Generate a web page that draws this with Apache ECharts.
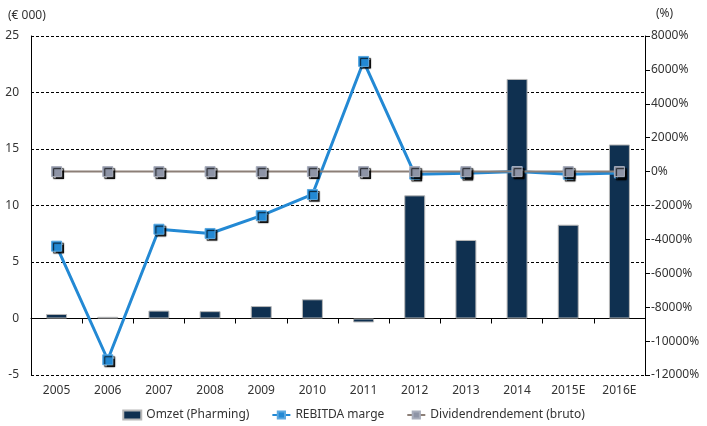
<html lang="nl">
<head>
    <meta charset="UTF-8">
    <title>Omzet en REBITDA marge</title>
    <script src="https://cdn.jsdelivr.net/npm/echarts@6/dist/echarts.min.js"></script>
</head>
<style>
    html, body { margin: 0; padding: 0; background: #fff; }
    #container { width: 707px; height: 426px; }
</style>
<body>
<div id="container"></div>
<script>
    var years = ['2005', '2006', '2007', '2008', '2009', '2010', '2011', '2012', '2013', '2014', '2015E', '2016E'];
    // omzet in € 000
    var omzet = [0.4, 0.15, 0.7, 0.65, 1.1, 1.7, -0.35, 10.9, 6.95, 21.2, 8.3, 15.4];
    // marges in %
    var rebitda = [-4400, -11100, -3400, -3650, -2600, -1350, 6500, -150, -100, 0, -150, -80];
    var dividend = [0, 0, 0, 0, 0, 0, 0, 0, 0, 0, 0, 0];

    var chart = echarts.init(document.getElementById('container'));
    var font = 'Noto Sans';
    var markerShadow = {
        shadowColor: 'rgba(0,0,0,0.85)',
        shadowBlur: 1,
        shadowOffsetX: 2,
        shadowOffsetY: 2
    };

    var option = {
        animation: false,
        textStyle: { fontFamily: font },
        grid: { left: 31, right: 62, top: 36, bottom: 51 },
        legend: {
            bottom: 0,
            left: 'center',
            itemGap: 22,
            itemWidth: 18,
            itemHeight: 9,
            textStyle: { fontSize: 12, color: '#333' },
            data: [
                { name: 'Omzet (Pharming)', icon: 'rect' },
                'REBITDA marge',
                'Dividendrendement (bruto)'
            ]
        },
        graphic: [
            { type: 'text', left: 8, top: 10, style: { text: '(€ 000)', font: '12px "Noto Sans"', fill: '#333' } },
            { type: 'text', left: 656, top: 8, style: { text: '(%)', font: '12px "Noto Sans"', fill: '#333' } }
        ],
        xAxis: {
            type: 'category',
            data: years,
            axisLine: { onZero: true, onZeroAxisIndex: 0, lineStyle: { color: '#000', width: 1 } },
            axisTick: { show: true, alignWithLabel: false, length: 5, lineStyle: { color: '#000' } },
            axisLabel: { color: '#333', fontSize: 12, margin: 10 }
        },
        yAxis: [
            {
                type: 'value',
                min: -5,
                max: 25,
                interval: 5,
                axisLine: { show: true, lineStyle: { color: '#000' } },
                axisTick: { show: false },
                axisLabel: { color: '#333', fontSize: 12, margin: 12 },
                splitLine: { lineStyle: { color: '#000', type: [3, 2], width: 1 } }
            },
            {
                type: 'value',
                min: -12000,
                max: 8000,
                interval: 2000,
                position: 'right',
                axisLine: { show: true, lineStyle: { color: '#000' } },
                axisTick: { show: true, length: 5, lineStyle: { color: '#000' } },
                axisLabel: {
                    color: '#333', fontSize: 12, margin: 6,
                    formatter: function (v) { return v + '%'; }
                },
                splitLine: { show: false }
            }
        ],
        series: [
            {
                name: 'Omzet (Pharming)',
                type: 'bar',
                yAxisIndex: 0,
                barWidth: '41%',
                data: omzet,
                itemStyle: { color: '#0f3050', borderColor: '#b8b8b8', borderWidth: 1 }
            },
            {
                name: 'Dividendrendement (bruto)',
                type: 'line',
                yAxisIndex: 1,
                data: dividend,
                symbol: 'rect',
                symbolSize: 10,
                lineStyle: { color: '#8c7f77', width: 2 },
                itemStyle: Object.assign({ color: '#8e94a6', borderColor: '#a8adbb', borderWidth: 1 }, markerShadow),
                z: 3
            },
            {
                name: 'REBITDA marge',
                type: 'line',
                yAxisIndex: 1,
                data: rebitda,
                symbol: 'rect',
                symbolSize: 10,
                lineStyle: { color: '#2389d4', width: 3 },
                itemStyle: Object.assign({ color: '#2389d4', borderColor: '#5aa8e0', borderWidth: 1 }, markerShadow),
                z: 2
            }
        ]
    };

    chart.setOption(option);
</script>
</body>
</html>
